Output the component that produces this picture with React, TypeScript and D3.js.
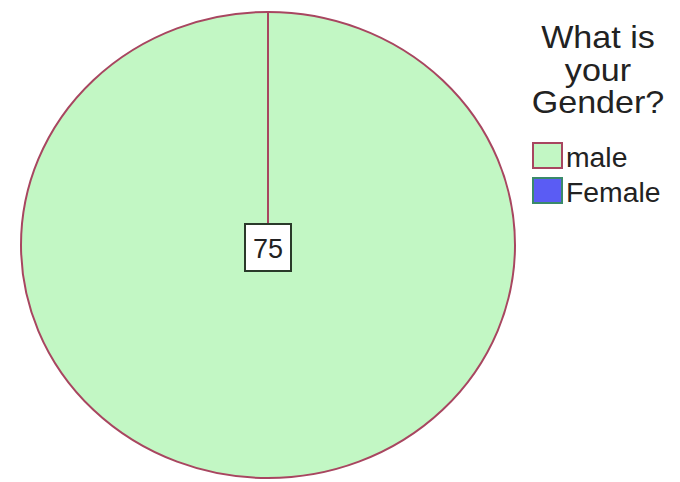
import { useEffect, useRef } from 'react'
import * as d3 from 'd3'

const categories = ['male', 'Female']
const counts = [75, 0]
const colors = ['#c2f7c4', '#5a5cf4']
const legendTitle = ['What is', 'your', 'Gender?']

export default function App() {
  const svgRef = useRef<SVGSVGElement>(null)

  useEffect(() => {
    if (!svgRef.current) return
    const width = 680
    const height = 482
    const cx = 268
    const cy = 245
    const rx = 247
    const ry = 233

    d3.select(svgRef.current).selectAll('*').remove()
    const svg = d3.select(svgRef.current)
      .attr('width', width)
      .attr('height', height)
      .attr('viewBox', [0, 0, width, height])

    svg.append('rect').attr('width', width).attr('height', height).attr('fill', '#fff')

    const data = categories.map((c, i) => ({ name: c, value: counts[i], color: colors[i] }))
    const pie = d3.pie<any>().value(d => d.value).sort(null)
    const arcs = pie(data)
    const arc = d3.arc<any>().innerRadius(0).outerRadius(rx)

    const g = svg.append('g')
      .attr('transform', `translate(${cx},${cy}) scale(1,${ry / rx})`)

    g.selectAll('path.slice')
      .data(arcs.filter(a => a.value > 0))
      .join('path')
      .attr('class', 'slice')
      .attr('d', arc)
      .attr('fill', d => d.data.color)
      .attr('stroke', '#a84660')
      .attr('stroke-width', 2)
      .attr('vector-effect', 'non-scaling-stroke')

    // radial boundary lines between slices
    arcs.forEach(a => {
      const ang = a.startAngle
      g.append('line')
        .attr('x1', 0).attr('y1', 0)
        .attr('x2', rx * Math.sin(ang))
        .attr('y2', -rx * Math.cos(ang))
        .attr('stroke', '#a84660')
        .attr('stroke-width', 2)
        .attr('vector-effect', 'non-scaling-stroke')
    })

    // value labels
    arcs.filter(a => a.value > 0).forEach(a => {
      const full = a.endAngle - a.startAngle > 2 * Math.PI - 1e-6
      const [lx, ly] = full ? [0, 0] : d3.arc<any>().innerRadius(0).outerRadius(rx).centroid(a)
      const px = cx + lx
      const py = cy + ly * (ry / rx) + 3
      svg.append('rect')
        .attr('x', px - 23).attr('y', py - 24)
        .attr('width', 46).attr('height', 47)
        .attr('fill', '#fff')
        .attr('stroke', '#2a3a2a')
        .attr('stroke-width', 2)
      svg.append('text')
        .text(String(a.value))
        .attr('x', px).attr('y', py + 10)
        .attr('text-anchor', 'middle')
        .attr('font-family', 'Liberation Sans, Arial, sans-serif')
        .attr('font-size', 27)
        .attr('fill', '#222')
    })

    // legend
    const lg = svg.append('g')
    legendTitle.forEach((t, i) => {
      lg.append('text')
        .text(t)
        .attr('transform', `translate(598,${48 + i * 32.5}) scale(1.1,1)`)
        .attr('text-anchor', 'middle')
        .attr('font-family', 'Liberation Sans, Arial, sans-serif')
        .attr('font-size', 31)
        .attr('fill', '#222')
    })
    data.forEach((d, i) => {
      const y = 143 + i * 35
      lg.append('rect')
        .attr('x', 533).attr('y', y)
        .attr('width', 29).attr('height', 25)
        .attr('fill', d.color)
        .attr('stroke', i === 0 ? '#a84660' : '#3a8a6a')
        .attr('stroke-width', 2)
      lg.append('text')
        .text(d.name)
        .attr('transform', `translate(566,${y + 24}) scale(1.05,1)`)
        .attr('font-family', 'Liberation Sans, Arial, sans-serif')
        .attr('font-size', 27)
        .attr('fill', '#222')
    })
  }, [])

  return <svg ref={svgRef} style={{ position: 'absolute', left: 0, top: 0 }}></svg>
}
